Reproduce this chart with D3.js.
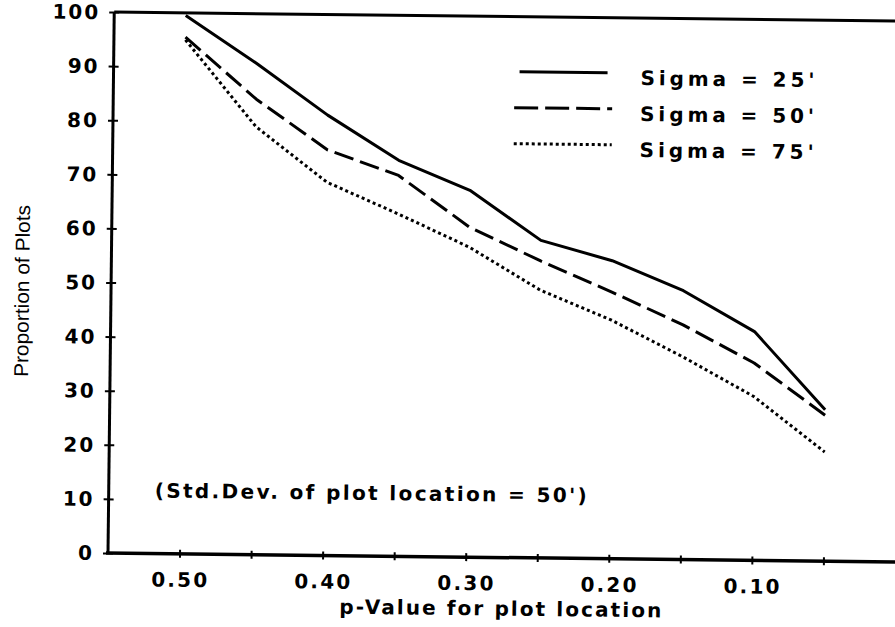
<!DOCTYPE html>
<html>
<head>
<meta charset="utf-8">
<script src="https://cdn.jsdelivr.net/npm/d3@7"></script>
<style>
  body { margin: 0; background: #fff; }
  svg { display: block; }
  .lbl { font-family: "DejaVu Sans", Verdana, sans-serif; font-weight: bold; fill: #000; }
</style>
</head>
<body>
<div id="chart"></div>
<script>
// values
var pValues = [0.50, 0.45, 0.40, 0.35, 0.30, 0.25, 0.20, 0.15, 0.10, 0.05];
var sigma25 = [99.5, 90.8, 81.4, 73.2, 67.8, 58.7, 55.1, 49.7, 42.3, 28.0];
var sigma50 = [95.5, 84.2, 75.0, 70.4, 61.0, 54.9, 49.3, 43.4, 36.5, 27.0];
var sigma75 = [95.0, 79.1, 69.0, 63.3, 57.3, 49.5, 44.1, 37.5, 30.3, 20.2];
var seriesNames = ["Sigma = 25'", "Sigma = 50'", "Sigma = 75'"];
var xTicks = [0.50, 0.45, 0.40, 0.35, 0.30, 0.25, 0.20, 0.15, 0.10, 0.05];
var xLabels = [0.50, 0.40, 0.30, 0.20, 0.10];
var yTicks = [0, 10, 20, 30, 40, 50, 60, 70, 80, 90, 100];

var width = 895, height = 627;
var svg = d3.select('#chart').append('svg')
    .attr('width', width)
    .attr('height', height);

// the scan is a little tilted, so the whole plot is turned slightly
var g = svg.append('g').attr('transform', 'rotate(0.66,108,553)');

var x = d3.scaleLinear().domain([0.55, 0]).range([108, 895]);
var y = d3.scaleLinear().domain([0, 100]).range([553, 12]);

// frame: left axis, top line, bottom axis (no right side)
g.append('line').attr('x1', 108).attr('x2', 108).attr('y1', y(100)).attr('y2', y(0))
    .attr('stroke', '#000').attr('stroke-width', 3);
g.append('line').attr('x1', 108).attr('x2', 910).attr('y1', y(100)).attr('y2', y(100))
    .attr('stroke', '#000').attr('stroke-width', 3);
g.append('line').attr('x1', 106).attr('x2', 910).attr('y1', y(0)).attr('y2', y(0))
    .attr('stroke', '#000').attr('stroke-width', 3.5);

// x axis ticks (crossing marks) and labels
var xAxis = g.append('g').attr('transform', 'translate(0,' + y(0) + ')')
    .call(d3.axisBottom(x).tickValues(xTicks).tickSize(0).tickFormat(''));
xAxis.select('.domain').remove();
xAxis.selectAll('.tick line').attr('y1', -4).attr('y2', 4)
    .attr('stroke', '#000').attr('stroke-width', 2);

g.selectAll('.xlab').data(xLabels).enter().append('text')
    .attr('class', 'lbl xlab')
    .attr('x', function (d) { return x(d) - 28; })
    .attr('y', y(0) + 33)
    .attr('textLength', 56).attr('lengthAdjust', 'spacing')
    .style('font-size', '20px')
    .text(function (d) { return d.toFixed(2); });

// y axis ticks and labels
var yAxis = g.append('g').attr('transform', 'translate(108,0)')
    .call(d3.axisLeft(y).tickValues(yTicks).tickSize(0).tickFormat(''));
yAxis.select('.domain').remove();
yAxis.selectAll('.tick line').attr('x1', -5).attr('x2', 5)
    .attr('stroke', '#000').attr('stroke-width', 2);

g.selectAll('.ylab').data(yTicks).enter().append('text')
    .attr('class', 'lbl ylab')
    .attr('x', 94)
    .attr('y', function (d) { return y(d); })
    .attr('dy', '0.36em')
    .attr('text-anchor', 'end')
    .style('font-size', '20px')
    .style('letter-spacing', '2px')
    .text(function (d) { return d; });

// titles
g.append('text').attr('class', 'lbl')
    .attr('x', 340).attr('y', 611)
    .attr('textLength', 322).attr('lengthAdjust', 'spacing')
    .style('font-size', '20px')
    .text('p-Value for plot location');

g.append('text')
    .attr('transform', 'translate(26,292) rotate(-90)')
    .attr('text-anchor', 'middle')
    .attr('textLength', 172).attr('lengthAdjust', 'spacingAndGlyphs')
    .style('font-family', '"Liberation Sans", Arial, sans-serif')
    .style('font-size', '20px')
    .text('Proportion of Plots');

g.append('text').attr('class', 'lbl')
    .attr('x', 154).attr('y', 497)
    .attr('textLength', 432).attr('lengthAdjust', 'spacing')
    .style('font-size', '20px')
    .text("(Std.Dev. of plot location = 50')");

// series lines
var styles = [
    { dash: null },
    { dash: '20,7' },
    { dash: '3,3' }
];
var seriesData = [sigma25, sigma50, sigma75];

var line = d3.line()
    .x(function (d) { return x(d.p); })
    .y(function (d) { return y(d.v); });

seriesData.forEach(function (vals, i) {
    var pts = pValues.map(function (p, j) { return { p: p, v: vals[j] }; });
    g.append('path')
        .datum(pts)
        .attr('fill', 'none')
        .attr('stroke', '#000')
        .attr('stroke-width', 3)
        .attr('stroke-linejoin', 'round')
        .attr('stroke-dasharray', styles[i].dash)
        .attr('d', line);
});

// legend
var legendDash = [null, '24,7', '3,3'];
var legend = g.append('g');
seriesNames.forEach(function (name, i) {
    var ly = 67 + i * 36;
    legend.append('line')
        .attr('x1', i === 0 ? 514 : 509).attr('x2', i === 0 ? 602 : 607)
        .attr('y1', ly).attr('y2', ly)
        .attr('stroke', '#000').attr('stroke-width', 3)
        .attr('stroke-dasharray', legendDash[i]);
    legend.append('text').attr('class', 'lbl')
        .attr('x', 635).attr('y', ly + 12)
        .attr('textLength', 174).attr('lengthAdjust', 'spacing')
        .style('font-size', '20px')
        .text(name);
});
</script>
</body>
</html>
